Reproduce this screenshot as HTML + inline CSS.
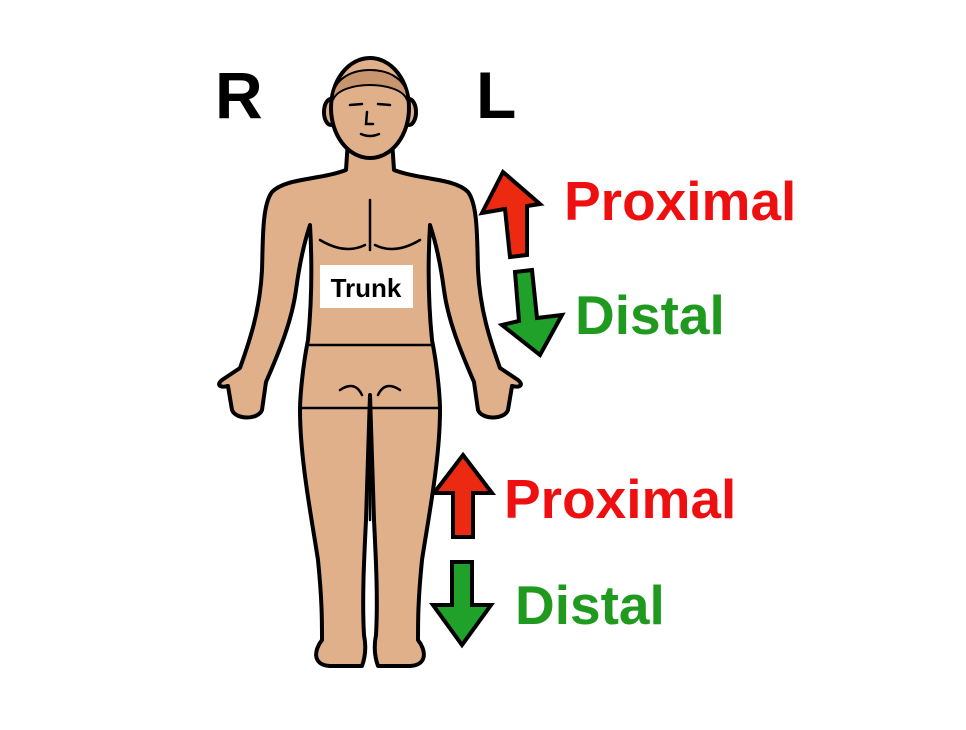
<!DOCTYPE html>
<html><head><style>
html,body{margin:0;padding:0;background:#fff;}
body{width:966px;height:725px;overflow:hidden;position:relative;font-family:"Liberation Sans",Arial,sans-serif;}
</style></head><body>
<svg width="966" height="725" viewBox="0 0 966 725" xmlns="http://www.w3.org/2000/svg">
<g stroke="#000" stroke-width="4" stroke-linejoin="round" fill="#e0b08b">
<path d="M348,140 L346,170 C320,180 285,178 272,192 C262,205 263,240 262,270 C260,310 250,340 240,368 L222,380 C216,385 220,388 228,386 L232,410 C236,420 258,420 262,410 L266,382 C280,350 292,320 296,290 C300,260 305,240 310,225 C312,260 312,300 308,340 C302,370 300,400 300,410 C300,460 312,520 318,560 C322,600 322,620 322,640 C314,650 312,665 330,666 L362,666 C366,655 366,645 364,635 C362,600 364,560 366,520 L370,395 L374,520 C376,560 378,600 376,635 C374,645 374,655 378,666 L410,666 C428,665 426,650 418,640 C418,620 418,600 422,560 C428,520 440,460 440,410 C440,400 438,370 432,340 C428,300 428,260 430,225 C435,240 440,260 444,290 C448,320 460,350 474,382 L478,410 C482,420 504,420 508,410 L512,386 C520,388 524,385 518,380 L500,368 C490,340 480,310 478,270 C477,240 478,205 468,192 C455,178 420,180 394,170 L392,140 Z"/>
<ellipse cx="331" cy="112" rx="7" ry="13"/>
<ellipse cx="409" cy="112" rx="7" ry="13"/>
<ellipse cx="370" cy="108" rx="39" ry="50"/>
</g>
<path d="M333,100 C330,60 410,60 407,100 C400,80 340,80 333,100 Z" fill="#c9956e" stroke="#000" stroke-width="2"/>
<g stroke="#000" stroke-width="2.5" fill="none" stroke-linecap="round">
<path d="M350,105 L362,104 M378,104 L390,105"/>
<path d="M367,112 L366,124 L373,124"/>
<path d="M361,134 Q370,138 379,134"/>
<path d="M310,345 L432,345 M302,408 L438,408 M370,395 L370,520"/>
<path d="M370,200 L370,250 M320,240 Q345,255 365,245 M375,245 Q395,255 420,240"/>
<path d="M340,390 Q355,380 362,395 M400,390 Q385,380 378,395"/>
</g>
<rect x="320" y="265" width="93" height="43" fill="#fff"/>
<text x="366" y="297" text-anchor="middle" font-size="26" font-weight="bold" fill="#000">Trunk</text>
<text x="215" y="118" font-size="66" font-weight="bold">R</text>
<text x="476" y="118" font-size="66" font-weight="bold">L</text>
<g stroke="#000" stroke-width="4" stroke-linejoin="miter">
<polygon points="503,172 540,204 527,206 527,255 510,257 505,209 482,213" fill="#ec2a12"/>
<polygon points="515,272 532,270 537,318 562,315 540,355 502,325 519,321" fill="#1fa12a"/>
<polygon points="463,455 492,493 473,493 473,537 453,537 453,493 434,493" fill="#ec2a12"/>
<polygon points="452,562 472,562 472,605 491,605 462,645 433,605 452,605" fill="#1fa12a"/>
</g>
<g font-weight="bold" font-size="55">
<text x="564" y="220" fill="#ee1010">Proximal</text>
<text x="575" y="334" fill="#1f9a1f">Distal</text>
<text x="504" y="518" fill="#ee1010">Proximal</text>
<text x="515" y="624" fill="#1f9a1f">Distal</text>
</g>
</svg>
</body></html>
